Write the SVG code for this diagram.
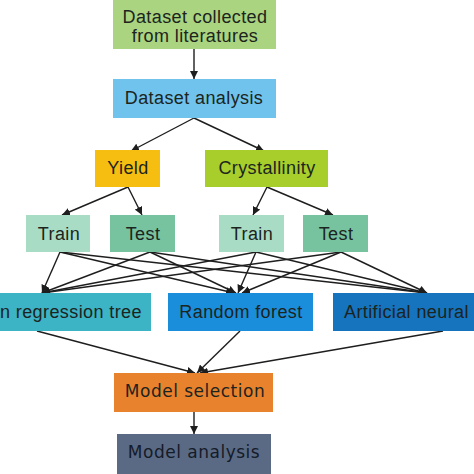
<svg xmlns="http://www.w3.org/2000/svg" width="474" height="474" viewBox="0 0 474 474">
<defs>
<marker id="ah" viewBox="0 0 10 10" refX="10" refY="5" markerWidth="8" markerHeight="8" markerUnits="userSpaceOnUse" orient="auto">
<path d="M0,0 L10,5 L0,10 z" fill="#1e1e1e"/>
</marker>
<style>
text{font-family:"Liberation Sans",Arial,sans-serif;font-size:18px;letter-spacing:0.4px;fill:#1c2420;text-anchor:middle}
.k{font-family:"DejaVu Sans","Liberation Sans",sans-serif;font-size:17px;letter-spacing:0.5px}
#connectors line{stroke:#1e1e1e;stroke-width:1.4;fill:none;marker-end:url(#ah)}
</style>
</defs>
<rect width="474" height="474" fill="#ffffff"/>
<g id="connectors">
<line x1="194" y1="49" x2="194" y2="79"/>
<line x1="194" y1="118" x2="131" y2="151"/>
<line x1="194" y1="118" x2="264" y2="151"/>
<line x1="128" y1="187" x2="62" y2="215"/>
<line x1="128" y1="187" x2="142" y2="215"/>
<line x1="267" y1="187" x2="253" y2="215"/>
<line x1="267" y1="187" x2="333" y2="215"/>
<line x1="60" y1="252" x2="42" y2="293"/>
<line x1="60" y1="252" x2="234" y2="293"/>
<line x1="60" y1="252" x2="427" y2="293"/>
<line x1="150" y1="252" x2="42" y2="293"/>
<line x1="150" y1="252" x2="236" y2="293"/>
<line x1="150" y1="252" x2="427" y2="293"/>
<line x1="256" y1="252" x2="42" y2="293"/>
<line x1="256" y1="252" x2="238" y2="293"/>
<line x1="256" y1="252" x2="427" y2="293"/>
<line x1="341" y1="252" x2="42" y2="293"/>
<line x1="341" y1="252" x2="242" y2="293"/>
<line x1="341" y1="252" x2="427" y2="293"/>
<line x1="37" y1="331" x2="195" y2="373"/>
<line x1="240" y1="331" x2="197" y2="373"/>
<line x1="443" y1="331" x2="200" y2="373"/>
<line x1="194" y1="412" x2="194" y2="434"/>
</g>
<g id="n-dataset">
<rect x="113" y="0" width="163" height="49" fill="#aad47f"/>
<text x="195" y="23">Dataset collected</text>
<text x="195" y="42">from literatures</text>
</g>
<g id="n-analysis">
<rect x="113" y="79" width="163" height="39" fill="#70c3ec"/>
<text x="194" y="104">Dataset analysis</text>
</g>
<g id="n-yield">
<rect x="95" y="150" width="65" height="37" fill="#f6be10"/>
<text x="128" y="174">Yield</text>
</g>
<g id="n-cryst">
<rect x="205" y="150" width="123" height="37" fill="#a8ce2c"/>
<text x="267" y="174">Crystallinity</text>
</g>
<g id="n-train1">
<rect x="26" y="215" width="64" height="37" fill="#a9dcc5"/>
<text x="59" y="240">Train</text>
</g>
<g id="n-test1">
<rect x="110" y="215" width="65" height="37" fill="#77c3a0"/>
<text x="143" y="240">Test</text>
</g>
<g id="n-train2">
<rect x="219" y="215" width="65" height="37" fill="#a9dcc5"/>
<text x="252" y="240">Train</text>
</g>
<g id="n-test2">
<rect x="303" y="215" width="65" height="37" fill="#77c3a0"/>
<text x="336" y="240">Test</text>
</g>
<g id="n-tree">
<rect x="0" y="293" width="151" height="38" fill="#3db3c6"/>
<text x="0" y="318" style="text-anchor:start">n regression tree</text>
</g>
<g id="n-forest">
<rect x="168" y="293" width="145" height="38" fill="#1b8edb"/>
<text x="241" y="318">Random forest</text>
</g>
<g id="n-ann">
<rect x="333" y="293" width="141" height="38" fill="#1673be"/>
<text x="344" y="318" style="text-anchor:start">Artificial neural</text>
</g>
<g id="n-selection">
<rect x="114" y="373" width="159" height="39" fill="#e9822d"/>
<text class="k" x="195" y="397">Model  selection</text>
</g>
<g id="n-model-analysis">
<rect x="117" y="434" width="154" height="40" fill="#5a6a84"/>
<text class="k" x="194" y="458" style="fill:#151b28">Model  analysis</text>
</g>
</svg>
